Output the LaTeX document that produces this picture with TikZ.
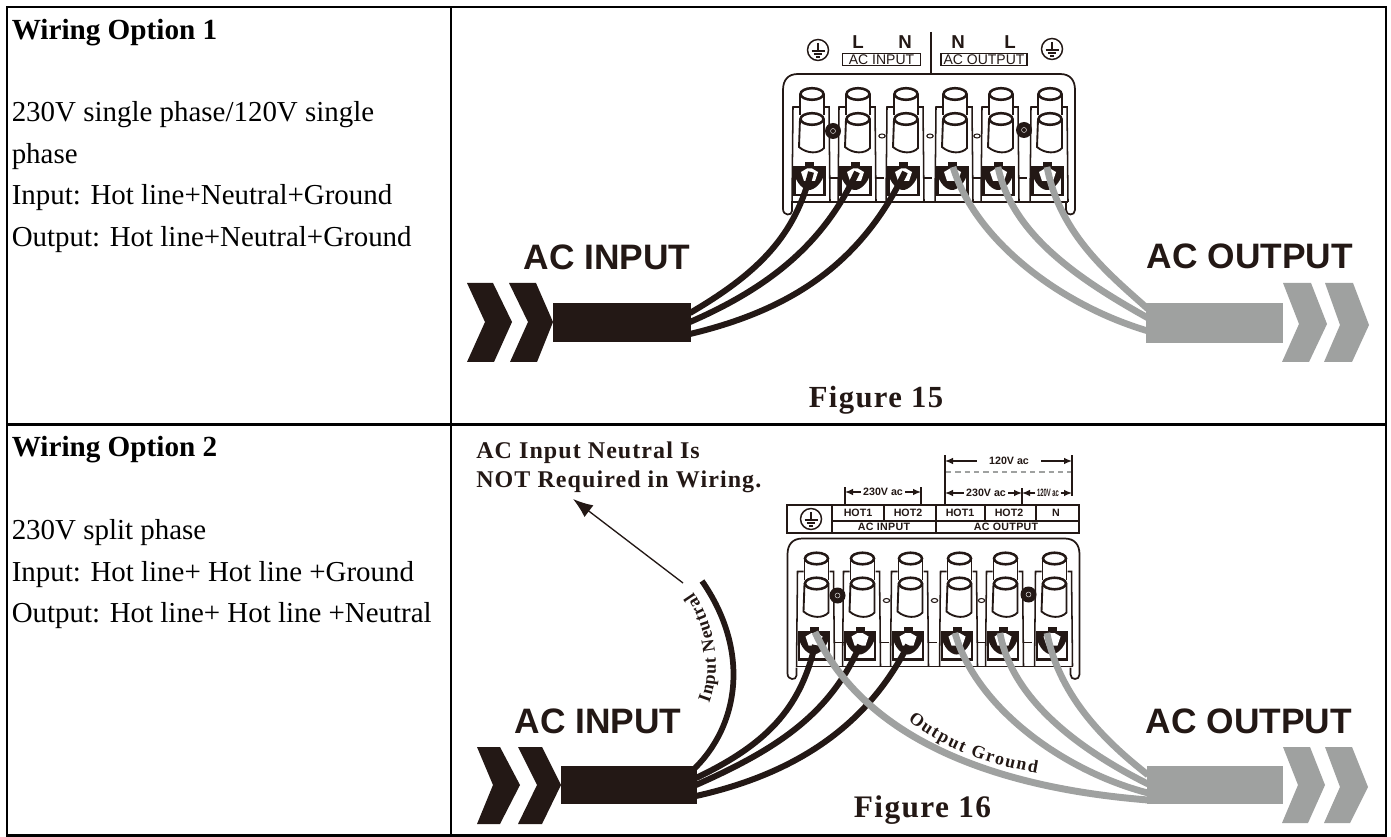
\documentclass[tikz,border=0pt]{standalone}
\usepackage{fontspec}
\usepackage{graphicx}
\usetikzlibrary{arrows.meta,decorations.text}
\setmainfont{Liberation Serif}
\newfontfamily\hvf{Liberation Sans}
\newfontfamily\sbf[LetterSpace=4.5]{Liberation Serif}
\newfontfamily\hbf[LetterSpace=3]{Liberation Sans}
\newfontfamily\curvefont{Liberation Serif}
\definecolor{ink}{HTML}{231815}
\definecolor{wiregray}{HTML}{9FA1A0}
\tikzset{
  tbl/.style={line width=1.8pt,black},
  body/.style={anchor=base west,inner sep=0pt,font=\fontsize{21.7}{24}\selectfont},
  plate/.style={line width=1.15pt,ink},
  ring/.style={line width=1.9pt,ink,fill=white},
  bw/.style={line width=4.5pt,ink},
  gw/.style={line width=5pt,wiregray},
  big/.style={anchor=base,inner sep=0pt,text=ink,font=\hvf\bfseries\fontsize{26.5}{28}\selectfont},
  dim/.style={line width=1pt,ink,-{Latex[length=6pt,width=5pt]}},
  dimtext/.style={inner sep=0pt,text=ink,font=\hvf\bfseries\fontsize{8}{9}\selectfont},
  tick/.style={line width=1.1pt,ink},
  hdr/.style={inner sep=0pt,text=ink,font=\hvf\bfseries\fontsize{8}{9}\selectfont},
}
\newcommand{\gsym}[2]{%
  \begin{scope}[shift={(#1,#2)}]
    \draw[line width=1.1pt,ink] (0,0) circle[x radius=10.5,y radius=10.5];
    \draw[line width=1pt,ink] (0,-7)--(0,1) (-6.5,1)--(6.5,1) (-4.3,4)--(4.3,4) (-2.2,7)--(2.2,7);
  \end{scope}}
\newcommand{\termunit}[1]{%
  \begin{scope}[shift={(#1,0)}]
    % frame
    \draw[plate] (-13,107)--(-19,107)--(-20,202) (13,107)--(17,107)--(18,202);
    % jack
    \draw[line width=1.6pt,ink,fill=white] (-17.5,167.5) rectangle (12.5,195);
    \fill[ink] (-18,167) rectangle (13,174);
    \fill[ink] (-7,162.5) rectangle (2,168);
    \fill[ink] (-18,172) .. controls (-16,184) and (-8,190) .. (-3,190) .. controls (2,190) and (10,184) .. (13,172) -- cycle;
    \fill[white] (-11,172) -- (-5,168.5) -- (0,168.5) -- (6,172) -- (3,181) -- (-8,181) -- cycle;
    % upper cylinder
    \path[fill=white] (-12,94) rectangle (12,119);
    \draw[plate,line width=1.4pt] (-12,94)--(-12,115) (12,94)--(12,115);
    \draw[ring] (0,94) circle[x radius=11.5,y radius=5.8];
    % lower cylinder
    \draw[plate,line width=1.4pt,fill=white] (-12,119)--(-13,147) .. controls (-5,154) and (7,154) .. (12,148)--(12,119);
    \draw[ring] (0,119) circle[x radius=11.5,y radius=5.8];
  \end{scope}}
\newcommand{\wireblock}{%
  \draw[plate,line width=1.3pt] (792,203)--(792,211) .. controls (792,216) and (783,216) .. (783,209)
    -- (783,90) .. controls (783,80) and (788,74) .. (798,74) -- (1060,74)
    .. controls (1070,74) and (1075,80) .. (1075,90) -- (1075,210)
    .. controls (1075,216) and (1066,216) .. (1066,210) -- (1066,203);
  \draw[plate] (791,202)--(1068,202);
  \foreach \tx in {812,858,906,955,1001,1050}{\termunit{\tx}}
  \foreach \hx in {830,875,923,972,1018}{\draw[plate] (\hx,178)--++(9,0);}
  \fill[ink] (833,131) circle[radius=8];
  \fill[ink] (1024,130) circle[radius=8];
  \draw[white,line width=.3pt] (833,131) circle[radius=2.5];
  \draw[white,line width=.3pt] (1024,130) circle[radius=2.5];
  \foreach \sx in {882,930,977}{\draw[line width=.8pt,ink,fill=white] (\sx,136) circle[x radius=3.2,y radius=2];}
}
\begin{document}
\begin{tikzpicture}[x=0.75pt,y=-0.75pt]
\useasboundingbox (0,0) rectangle (1391,837);
\fill[white] (0,0) rectangle (1391,837);

% table
\draw[tbl] (7,7) rectangle (1386,835.5);
\draw[tbl] (7,424.7)--(1386,424.7);
\draw[tbl] (451,7)--(451,835.5);

% left texts
\node[body,font=\bfseries\fontsize{21.9}{24}\selectfont] (t1) at (11.5,40) {Wiring Option 1};
\node[body] (t2) at (11.5,122) {230V single phase/120V single};
\node[body] (t3) at (11.5,163.5) {phase};
\node[body] (t4) at (11.5,205) {Input: Hot line+Neutral+Ground};
\node[body] (t5) at (11.5,246.5) {Output: Hot line+Neutral+Ground};
\node[body,font=\bfseries\fontsize{21.9}{24}\selectfont] (t6) at (11.5,456) {Wiring Option 2};
\node[body] (t7) at (11.5,539) {230V split phase};
\node[body] (t8) at (11.5,581) {Input: Hot line+ Hot line +Ground};
\node[body] (t9) at (11.5,622.5) {Output: Hot line+ Hot line +Neutral};

% ---------- Figure 15
\wireblock
\draw[plate,line width=1pt] (931,32)--(931,74);
\gsym{818}{50}\gsym{1052}{49}
\node[hdr,font=\hvf\bfseries\fontsize{14}{15}\selectfont] (l1) at (858,42) {L};
\node[hdr,font=\hvf\bfseries\fontsize{14}{15}\selectfont] (n1) at (905,42) {N};
\node[hdr,font=\hvf\bfseries\fontsize{14}{15}\selectfont] (n2) at (958,42) {N};
\node[hdr,font=\hvf\bfseries\fontsize{14}{15}\selectfont] (l2) at (1010,42) {L};
\node[draw=ink,line width=.8pt,minimum width=58pt,minimum height=9.5pt,inner sep=0pt,text=ink,font=\hvf\fontsize{10.5}{11}\selectfont] (acin) at (881.5,59.5) {AC INPUT};
\node[draw=ink,line width=.8pt,minimum width=64.5pt,minimum height=9.5pt,inner sep=0pt,text=ink,font=\hvf\fontsize{10.5}{11}\selectfont] (acout) at (984,59.5) {AC OUTPUT};

\fill[ink] (467,283)--(493,283)--(512,322)--(494,362)--(467,362)--(485,322)--cycle;
\fill[ink] (509,283)--(536,283)--(553,322)--(537,362)--(510,362)--(528,322)--cycle;
\fill[ink] (553,303) rectangle (691,342);
\draw[bw] (690,313) .. controls (760,272) and (795,235) .. (811,172);
\draw[bw] (690,322) .. controls (775,285) and (825,240) .. (857,172);
\draw[bw] (690,334) .. controls (790,310) and (860,265) .. (905,172);

\fill[wiregray] (1146,303) rectangle (1283,343);
\fill[wiregray] (1283,283)--(1311,283)--(1327,324)--(1309,362)--(1282,362)--(1299,324)--cycle;
\fill[wiregray] (1325,283)--(1353,283)--(1369,325)--(1352,362)--(1324,362)--(1340,325)--cycle;
\draw[gw] (1047,167) .. controls (1060,235) and (1110,275) .. (1148,309);
\draw[gw] (998,167) .. controls (1012,235) and (1080,280) .. (1148,318);
\draw[gw] (953,167) .. controls (975,240) and (1060,305) .. (1148,331);

\node[big] (in1) at (607,270) {AC INPUT};
\node[big] (out1) at (1250,269) {AC OUTPUT};
\node[anchor=base,inner sep=0pt,text=ink,font=\sbf\bfseries\fontsize{23}{24}\selectfont] (f15) at (876,407) {Figure 15};

% ---------- Figure 16
\begin{scope}[shift={(4.5,464.5)}]
\wireblock
\end{scope}
% header table
\draw[line width=1.2pt,ink] (787,505) rectangle (1079,533);
\draw[line width=1pt,ink] (832,521)--(1079,521) (832,505)--(832,533) (936,505)--(936,533)
  (884,505)--(884,521) (985,505)--(985,521) (1036,505)--(1036,521);
\gsym{811}{519}
\node[hdr] (h1) at (858,513) {HOT1};
\node[hdr] (h2) at (908,513) {HOT2};
\node[hdr] (h3) at (960,513) {HOT1};
\node[hdr] (h4) at (1009,513) {HOT2};
\node[hdr] (h5) at (1056,513) {N};
\node[hdr,font=\hbf\bfseries\fontsize{8}{9}\selectfont] (h6) at (884,527) {AC INPUT};
\node[hdr,font=\hbf\bfseries\fontsize{8}{9}\selectfont] (h7) at (1006,527) {AC OUTPUT};

% dimensions
\draw[tick] (845,487)--(845,505) (921,487)--(921,505);
\draw[tick] (945,455)--(945,505) (1022,488)--(1022,505) (1072,455)--(1072,496);
\draw[line width=.8pt,wiregray,dash pattern=on 4pt off 3pt] (946,472)--(1071,472);
\node[dimtext] (d1) at (883,492) {230V ac};
\node[dimtext] (d2) at (1009,461) {120V ac};
\node[dimtext] (d3) at (986,493) {230V ac};
\node[dimtext] (d4) at (1048,493) {\scalebox{0.55}[1]{120V ac}};
\coordinate (a1) at (845,492); \coordinate (a2) at (921,492);
\coordinate (b1) at (945,461); \coordinate (b2) at (1072,461);
\coordinate (c1) at (945,493); \coordinate (c2) at (1022,493);
\coordinate (e1) at (1022,493); \coordinate (e2) at (1072,493);
\draw[dim] ([xshift=-1.5pt]d1.west) -- (a1);
\draw[dim] ([xshift=1.5pt]d1.east) -- (a2);
\draw[dim] ([xshift=-9pt]d2.west) -- (b1);
\draw[dim] ([xshift=9pt]d2.east) -- (b2);
\draw[dim] ([xshift=-1.5pt]d3.west) -- (c1);
\draw[dim] ([xshift=1.5pt]d3.east) -- (c2);
\draw[dim] ([xshift=-1pt]d4.west) -- (e1);
\draw[dim] ([xshift=1pt]d4.east) -- (e2);

\fill[ink] (477,747)--(500,747)--(520,785)--(500,824)--(477,824)--(493,785)--cycle;
\fill[ink] (518,747)--(542,747)--(561,785)--(542,824)--(518,824)--(537,785)--cycle;
\fill[ink] (561,766) rectangle (697,804);
% black wires
\draw[bw] (696,778) .. controls (765,745) and (800,710) .. (815,645);
\draw[bw] (696,785) .. controls (775,750) and (830,715) .. (860,645);
\draw[bw] (696,796) .. controls (790,775) and (865,730) .. (908,645);
% input neutral
\draw[bw,line width=4.3pt] (693,770) .. controls (740,725) and (750,650) .. (702,581);
% grey wires
\draw[gw,line width=5.2pt] (815,632) .. controls (855,720) and (960,785) .. (1148,800);
\draw[gw] (1047,633) .. controls (1060,700) and (1110,745) .. (1148,775);
\draw[gw] (1000,633) .. controls (1012,700) and (1080,750) .. (1148,784);
\draw[gw] (955,633) .. controls (975,705) and (1060,770) .. (1148,793);
\fill[wiregray] (1147,766) rectangle (1283,804);
\fill[wiregray] (1283,747)--(1310,747)--(1325,785)--(1308,823)--(1282,823)--(1298,785)--cycle;
\fill[wiregray] (1325,747)--(1352,747)--(1368,787)--(1350,823)--(1324,823)--(1340,787)--cycle;

\node[big] (in2) at (598,733) {AC INPUT};
\node[big] (out2) at (1249,733) {AC OUTPUT};
\node[anchor=base,inner sep=0pt,text=ink,font=\sbf\bfseries\fontsize{23.5}{24}\selectfont] (f16) at (922.5,817) {Figure 16};

\node[anchor=base west,inner sep=0pt,text=ink,font=\sbf\bfseries\fontsize{18}{20}\selectfont] (note1) at (476,459) {AC Input Neutral Is};
\node[anchor=base west,inner sep=0pt,text=ink,font=\sbf\bfseries\fontsize{18}{20}\selectfont] (note2) at (476,487) {NOT Required in Wiring.};
\coordinate (arrS) at (683,583); \coordinate (arrE) at (573,499);
\draw[line width=1pt,ink,-{Latex[length=15pt,width=11pt]}] (arrS)--(arrE);

\path[decorate,decoration={text along path,text align={fit to path},
  text={|\curvefont\bfseries\fontsize{13.5}{14}\selectfont\color{ink}|Input Neutral}}]
  (709,703) .. controls (722,670) and (716,625) .. (693,592);
\path[decorate,decoration={text along path,text align={fit to path},
  text={|\curvefont\bfseries\fontsize{13.5}{14}\selectfont\color{ink}|Output Ground}}]
  (908,720) .. controls (945,750) and (990,765) .. (1037,773);
\end{tikzpicture}
\end{document}
